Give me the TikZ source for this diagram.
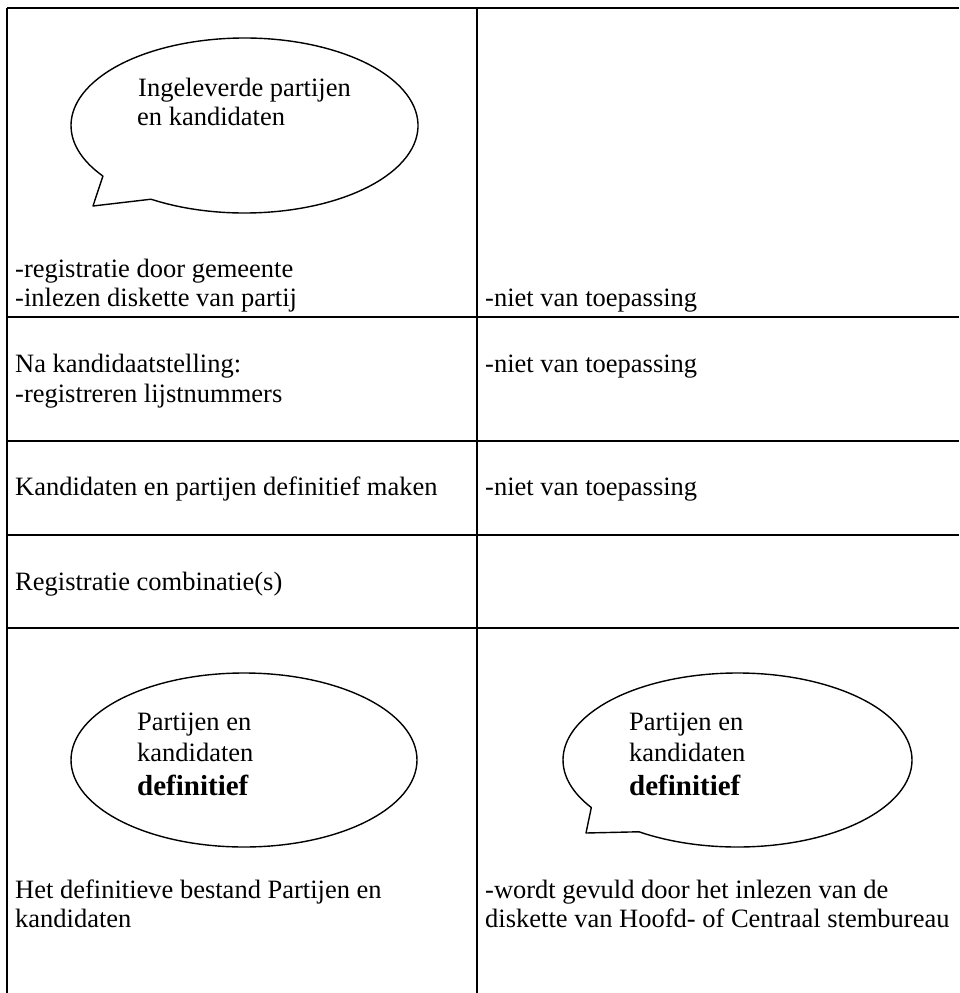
\documentclass[tikz,border=0pt]{standalone}
\usepackage{fontspec}
\setmainfont{Liberation Serif}
\tikzset{
  rule/.style={line width=1.8pt},
  bubble/.style={line width=1.4pt, line join=round},
  txt/.style={anchor=base west, inner sep=0pt, font=\fontsize{26.5pt}{29.5pt}\selectfont},
  btxt/.style={anchor=base west, inner sep=0pt, font=\fontsize{29pt}{32pt}\selectfont\bfseries},
}
\begin{document}
\begin{tikzpicture}[x=1pt,y=1pt]
\useasboundingbox (0,0) rectangle (959,-993);
% table rules
\coordinate (tl) at (7,-8);
\coordinate (tr) at (959,-8);
\coordinate (bl) at (7,-993);
\coordinate (tm) at (477,-8);
\coordinate (bm) at (477,-993);
\draw[rule] (tl) -- (tr);
\draw[rule] (tl) -- (bl);
\draw[rule] (tm) -- (bm);
\foreach \yy in {317,441,535,628} \draw[rule] (7,-\yy) -- (959,-\yy);
% bubble 1 (with tail)
\coordinate (c1) at (244.5,-125.5);
\coordinate (t1) at (93,-206);
\draw[bubble] (c1) ++(237.4:173.5pt and 87.5pt)
  arc[start angle=237.4, end angle=575.3, x radius=173.5pt, y radius=87.5pt]
  -- (t1) -- cycle;
% bubble 2 (plain)
\coordinate (c2) at (244,-760);
\draw[bubble] (c2) ellipse[x radius=173pt, y radius=87pt];
% bubble 3 (with tail)
\coordinate (c3) at (737.5,-760);
\coordinate (t3) at (586,-833);
\draw[bubble] (c3) ++(235.6:174.5pt and 87pt)
  arc[start angle=235.6, end angle=573.1, x radius=174.5pt, y radius=87pt]
  -- (t3) -- cycle;
% texts
\node[txt] (e1a) at (138,-96) {Ingeleverde partijen};
\node[txt] (e1b) at (137,-125) {en kandidaten};
\node[txt] (l1a) at (15,-277) {-registratie door gemeente};
\node[txt] (l1b) at (15,-306) {-inlezen diskette van partij};
\node[txt] (r1) at (485,-306) {-niet van toepassing};
\node[txt] (l2a) at (15,-372) {Na kandidaatstelling:};
\node[txt] (l2b) at (15,-402) {-registreren lijstnummers};
\node[txt] (r2) at (485,-372) {-niet van toepassing};
\node[txt] (l3) at (15,-495) {Kandidaten en partijen definitief maken};
\node[txt] (r3) at (485,-495) {-niet van toepassing};
\node[txt] (l4) at (15,-590) {Registratie combinatie(s)};
\node[txt] (e2a) at (137,-730) {Partijen en};
\node[txt] (e2b) at (137,-761) {kandidaten};
\node[btxt] (e2c) at (137,-795) {definitief};
\node[txt] (e3a) at (629,-730) {Partijen en};
\node[txt] (e3b) at (629,-761) {kandidaten};
\node[btxt] (e3c) at (629,-795) {definitief};
\node[txt] (l5a) at (15,-898) {Het definitieve bestand Partijen en};
\node[txt] (l5b) at (15,-927) {kandidaten};
\node[txt] (r5a) at (485,-898) {-wordt gevuld door het inlezen van de};
\node[txt] (r5b) at (485,-927) {diskette van Hoofd- of Centraal stembureau};
\end{tikzpicture}
\end{document}
